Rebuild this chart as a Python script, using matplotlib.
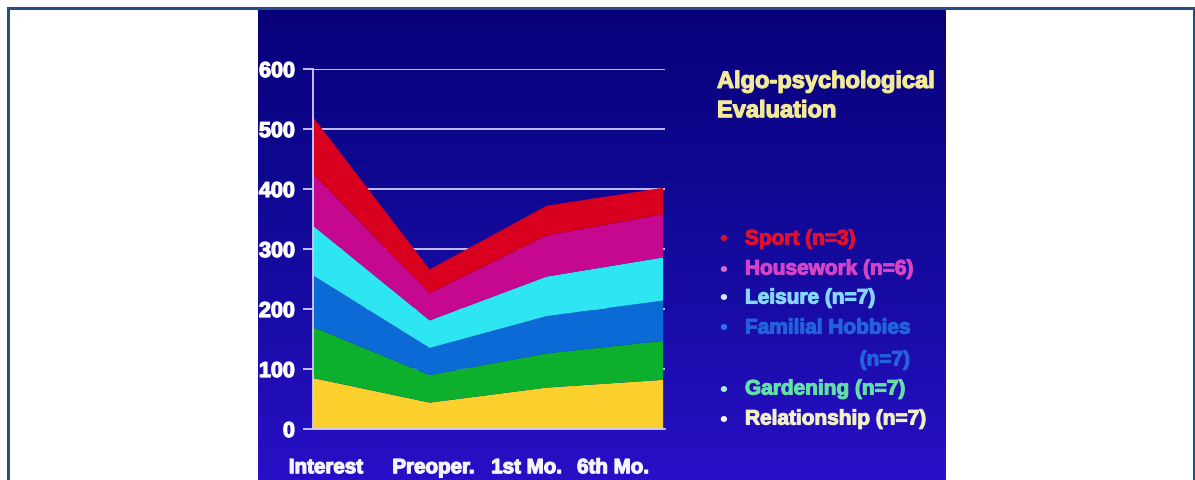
import numpy as np
import matplotlib
matplotlib.use("Agg")
import matplotlib.pyplot as plt
from matplotlib.patches import Rectangle
from matplotlib.colors import LinearSegmentedColormap
import matplotlib.patheffects as pe

# Data: individual layer heights at each assessment stage (stacked bottom -> top)
stages = ["Interest", "Preoper.", "1st Mo.", "6th Mo."]
relationship = [85, 44, 69, 82]
gardening = [85, 46, 57, 65]
familial_hobbies = [86, 45, 62, 67]
leisure = [83, 46, 66, 72]
housework = [86, 45, 68, 72]
sport = [95, 40, 50, 44]

layer_names = ["Relationship (n=7)", "Gardening (n=7)", "Familial Hobbies (n=7)",
               "Leisure (n=7)", "Housework (n=6)", "Sport (n=3)"]
y_ticks = [0, 100, 200, 300, 400, 500, 600]

fill_colors = ["#fcd02c", "#0cb02c", "#0c6ad6", "#2ee6f2", "#c6088e", "#d8001e"]

W, H, DPI = 1195, 481, 100
fig = plt.figure(figsize=(W / DPI, H / DPI), dpi=DPI)
fig.patch.set_facecolor("white")


def fx(px):
    return px / W


def fy(py):
    return 1 - py / H


def heavy(col, w=1.0):
    # slightly thickened strokes for the slide lettering
    return [pe.Stroke(linewidth=w, foreground=col), pe.Normal()]


# Slide background with a vertical blue gradient
slide_l, slide_r, slide_t, slide_b = 258, 946, 10, 481
bg = fig.add_axes([fx(slide_l), fy(slide_b), fx(slide_r - slide_l), (slide_b - slide_t) / H])
bg.set_axis_off()
grad_cmap = LinearSegmentedColormap.from_list(
    "slide", ["#08007a", "#0e0890", "#1a0ca8", "#2810c6"])
grad = np.linspace(0, 1, 256).reshape(-1, 1)
bg.imshow(grad, aspect="auto", cmap=grad_cmap, extent=[0, 1, 1, 0])
bg.set_xlim(0, 1)
bg.set_ylim(1, 0)

# Outer frame
fig.patches.append(Rectangle((fx(8), fy(490)), fx(1194 - 8), (490 - 9) / H,
                             transform=fig.transFigure, fill=False,
                             edgecolor="#2c4c84", linewidth=2.2, zorder=10))

# Stacked area chart
ax = fig.add_axes([fx(313), fy(430), fx(665 - 313), 360 / H])
ax.set_facecolor("none")
x = np.arange(len(stages))
ax.stackplot(x, relationship, gardening, familial_hobbies, leisure, housework, sport,
             colors=fill_colors, labels=layer_names, zorder=2, linewidth=0)
ax.set_xlim(0, 3.016)
ax.set_ylim(0, 600)

grid_col = "#d4ccff"
ax.set_yticks(y_ticks)
ax.set_yticklabels([str(v) for v in y_ticks])
ax.yaxis.grid(True, color=grid_col, linewidth=1.3, zorder=0)
ax.set_axisbelow(True)
for s in ["top", "right"]:
    ax.spines[s].set_visible(False)
ax.spines["left"].set_color(grid_col)
ax.spines["left"].set_linewidth(1.3)
ax.spines["bottom"].set_color(grid_col)
ax.spines["bottom"].set_linewidth(1.3)
ax.spines["bottom"].set_zorder(3)
ax.tick_params(axis="y", colors=grid_col, length=7, width=1.3, pad=6)
for lab in ax.get_yticklabels():
    lab.set_color("white")
    lab.set_fontweight("bold")
    lab.set_fontsize(15.5)
    lab.set_fontfamily("Liberation Sans")
    lab.set_path_effects(heavy("white", 0.9))

# Category labels beneath the chart
label_pos = [0.11, 1.03, 1.83, 2.57]
ax.set_xticks(label_pos)
ax.set_xticklabels(stages)
ax.tick_params(axis="x", length=0, pad=21)
for lab in ax.get_xticklabels():
    lab.set_color("#f4f4ff")
    lab.set_fontweight("bold")
    lab.set_fontsize(14.8)
    lab.set_fontfamily("Liberation Sans")
    lab.set_path_effects(heavy("#f4f4ff", 0.9))

# Title block
fig.text(fx(717), fy(97), "Algo-psychological\nEvaluation", color="#f2ea96",
         fontsize=17, fontweight="bold", family="Liberation Sans",
         ha="left", va="center", linespacing=1.35,
         path_effects=heavy("#f2ea96", 0.9))

# Legend list
legend_items = [
    ("Sport (n=3)", "#e0102c", "#e0102c", 240),
    ("Housework (n=6)", "#d444c4", "#d868c8", 270),
    ("Leisure (n=7)", "#86d6ff", "#c8eeff", 299),
    ("Familial Hobbies", "#2462dc", "#2c74e0", 329),
    ("Gardening (n=7)", "#62e0a6", "#a0f0e8", 390),
    ("Relationship (n=7)", "#f2f0c8", "#f8f8f0", 420),
]
for text, col, dot_col, py in legend_items:
    fig.text(fx(723), fy(py), "\u2022", color=dot_col, fontsize=16, fontweight="bold",
             family="Liberation Sans", ha="center", va="center")
    fig.text(fx(745), fy(py), text, color=col, fontsize=15, fontweight="bold",
             family="Liberation Sans", ha="left", va="center",
             path_effects=heavy(col, 0.8))
fig.text(fx(910), fy(361), "(n=7)", color="#2462dc", fontsize=15, fontweight="bold",
         family="Liberation Sans", ha="right", va="center",
         path_effects=heavy("#2462dc", 0.8))

fig.savefig("out.png", dpi=DPI, facecolor=fig.get_facecolor())
